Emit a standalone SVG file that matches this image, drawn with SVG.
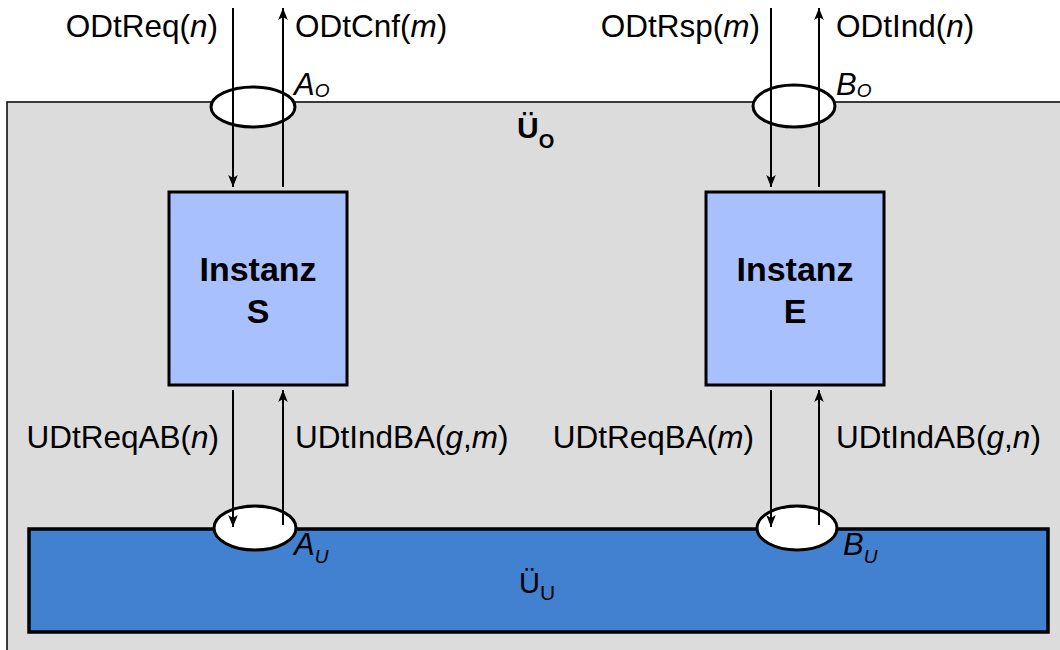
<svg xmlns="http://www.w3.org/2000/svg" width="1060" height="650" viewBox="0 0 1060 650">
<defs>
<marker id="ah" viewBox="0 0 10 10" refX="10" refY="5" markerWidth="6" markerHeight="6" markerUnits="strokeWidth" orient="auto">
<path d="M0,1 L10,5 L0,9 L2.5,5 Z" fill="#000"/>
</marker>
<style>
.lbl{font-family:"Liberation Sans",Arial,sans-serif;font-size:31.5px;fill:#000}
.inst{font-family:"Liberation Sans",Arial,sans-serif;font-size:34px;font-weight:bold;fill:#000;text-anchor:middle}
.port{font-family:"Liberation Sans",Arial,sans-serif;font-size:31px;font-style:italic;fill:#000}
.sub{font-size:19px}
.box{fill:#A9C0FF;stroke:#000;stroke-width:3}
.ring{fill:#fff;stroke:#000;stroke-width:3}
.conn{stroke:#000;stroke-width:2;fill:none;marker-end:url(#ah)}
</style>
</defs>
<rect x="0" y="0" width="1060" height="650" fill="#fff"/>
<g id="layerO">
<rect x="7" y="102" width="1070" height="570" fill="#DCDCDC" stroke="#000" stroke-width="1.5"/>
<text x="517" y="138" style="font-family:'Liberation Sans',Arial,sans-serif;font-size:30px;font-weight:bold">Ü<tspan dy="10" font-size="20">O</tspan></text>
</g>
<g id="layerU">
<rect x="29" y="529" width="1019" height="103" fill="#4281CF" stroke="#000" stroke-width="3.5"/>
<text x="519" y="593" style="font-family:'Liberation Sans',Arial,sans-serif;font-size:29px">Ü<tspan dy="7" font-size="21">U</tspan></text>
</g>
<g id="portAO"><ellipse class="ring" cx="253" cy="107" rx="42" ry="20"/></g>
<g id="portBO"><ellipse class="ring" cx="794" cy="106" rx="41" ry="21"/></g>
<g id="portAU"><ellipse class="ring" cx="255" cy="528" rx="41" ry="22"/></g>
<g id="portBU"><ellipse class="ring" cx="797" cy="528" rx="40" ry="22"/></g>
<g id="instS">
<rect class="box" x="169" y="192" width="178" height="193"/>
<text class="inst" x="258" y="281">Instanz</text>
<text class="inst" x="258" y="323">S</text>
</g>
<g id="instE">
<rect class="box" x="706" y="192" width="178" height="193"/>
<text class="inst" x="795" y="281">Instanz</text>
<text class="inst" x="795" y="323">E</text>
</g>
<g id="connectors">
<line class="conn" x1="233" y1="8" x2="233" y2="187"/>
<line class="conn" x1="283" y1="187" x2="283" y2="8"/>
<line class="conn" x1="771" y1="8" x2="771" y2="187"/>
<line class="conn" x1="819" y1="187" x2="819" y2="8"/>
<line class="conn" x1="233" y1="390" x2="233" y2="527"/>
<line class="conn" x1="283" y1="525" x2="283" y2="390"/>
<line class="conn" x1="771" y1="390" x2="771" y2="527"/>
<line class="conn" x1="819" y1="525" x2="819" y2="390"/>
</g>
<g id="labels">
<text class="lbl" x="218" y="37" text-anchor="end">ODtReq(<tspan font-style="italic">n</tspan>)</text>
<text class="lbl" x="295" y="37">ODtCnf(<tspan font-style="italic">m</tspan>)</text>
<text class="lbl" x="760" y="37" text-anchor="end">ODtRsp(<tspan font-style="italic">m</tspan>)</text>
<text class="lbl" x="836" y="37">ODtInd(<tspan font-style="italic">n</tspan>)</text>
<text class="lbl" x="219" y="448" text-anchor="end">UDtReqAB(<tspan font-style="italic">n</tspan>)</text>
<text class="lbl" x="295" y="448">UDtIndBA(<tspan font-style="italic">g</tspan>,<tspan font-style="italic">m</tspan>)</text>
<text class="lbl" x="754" y="448" text-anchor="end">UDtReqBA(<tspan font-style="italic">m</tspan>)</text>
<text class="lbl" x="836" y="448">UDtIndAB(<tspan font-style="italic">g</tspan>,<tspan font-style="italic">n</tspan>)</text>
<text class="port" x="294" y="95">A<tspan class="sub" dy="2">O</tspan></text>
<text class="port" x="836" y="95">B<tspan class="sub" dy="2">O</tspan></text>
<text class="port" x="294" y="555">A<tspan class="sub" dy="8">U</tspan></text>
<text class="port" x="843" y="555">B<tspan class="sub" dy="8">U</tspan></text>
</g>
</svg>
